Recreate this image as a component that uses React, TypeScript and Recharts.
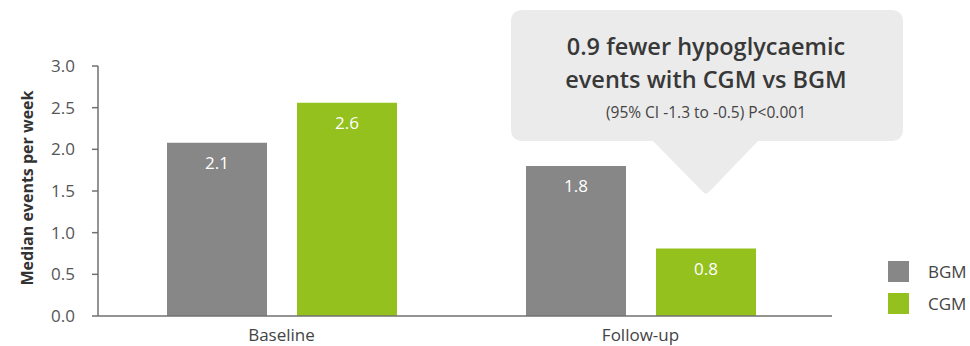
import React from 'react';
import { BarChart, Bar, XAxis, YAxis, LabelList } from 'recharts';

const categories = ['Baseline', 'Follow-up'];
const bgmValues = [2.08, 1.8];
const cgmValues = [2.56, 0.81];
const yTicks = [0, 0.5, 1, 1.5, 2, 2.5, 3];
const seriesNames = ['BGM', 'CGM'];
const seriesColors = ['#878787', '#95c11f'];
const calloutTitle = ['0.9 fewer hypoglycaemic', 'events with CGM vs BGM'];
const calloutSub = '(95% CI -1.3 to -0.5) P<0.001';
const yLabel = 'Median events per week';

const data = categories.map((c, i) => ({ name: c, BGM: bgmValues[i], CGM: cgmValues[i] }));

const FONT = '"Open Sans", Lato, sans-serif';

const YLabelContent = (props: any) => {
  const vb = props.viewBox || {};
  const cx = 27;
  const cy = (vb.y || 66) + (vb.height || 250) / 2 - 3;
  return (
    <text
      x={cx}
      y={cy}
      transform={`rotate(-90, ${cx}, ${cy})`}
      textAnchor="middle"
      dominantBaseline="central"
      fontFamily={FONT}
      fontSize={16}
      fontWeight={700}
      fill="#333"
    >
      {yLabel}
    </text>
  );
};

export default function App() {
  return (
    <div style={{ position: 'absolute', left: 0, top: 0, width: 970, height: 346, background: '#fff', overflow: 'hidden' }}>
      <BarChart
        width={970}
        height={346}
        data={data}
        margin={{ top: 66, right: 138, bottom: 0, left: 0 }}
        barSize={100}
        barGap={30}
        style={{ fontFamily: FONT }}
      >
        <XAxis
          dataKey="name"
          height={30}
          tickLine={false}
          tickSize={0}
          tickMargin={13}
          padding={{ left: 4, right: 12 }}
          axisLine={{ stroke: '#707070', strokeWidth: 1.5 }}
          tick={{ fill: '#444', fontSize: 17, fontFamily: FONT }}
        />
        <YAxis
          width={98}
          domain={[0, 3]}
          ticks={yTicks}
          tickFormatter={(v: number) => v.toFixed(1)}
          tickSize={6}
          tickMargin={17}
          axisLine={{ stroke: '#707070', strokeWidth: 1.5 }}
          tickLine={{ stroke: '#707070', strokeWidth: 1.5 }}
          tick={{ fill: '#555', fontSize: 17, fontFamily: FONT }}
          label={{ content: YLabelContent }}
        />
        {seriesNames.map((n, i) => (
          <Bar key={n} dataKey={n} fill={seriesColors[i]} isAnimationActive={false}>
            <LabelList
              dataKey={n}
              position="insideTop"
              offset={14}
              fill="#fff"
              fontSize={17}
              fontFamily={FONT}
              formatter={(v: number) => v.toFixed(1)}
            />
          </Bar>
        ))}
      </BarChart>
      <div style={{ position: 'absolute', left: 888, top: 261, fontFamily: FONT }}>
        {seriesNames.map((n, i) => (
          <div key={n} style={{ display: 'flex', alignItems: 'center', height: 21, marginBottom: 11 }}>
            <div style={{ width: 21, height: 21, background: seriesColors[i] }} />
            <span style={{ marginLeft: 19, fontSize: 17, color: '#444', lineHeight: '21px' }}>{n}</span>
          </div>
        ))}
      </div>
      <svg
        width={970}
        height={346}
        style={{ position: 'absolute', left: 0, top: 0, pointerEvents: 'none' }}
      >
        <path
          d="M523,10 H891 Q903,10 903,22 V129 Q903,141 891,141 H758 L709,192 Q706,195 703,192 L653,141 H523 Q511,141 511,129 V22 Q511,10 523,10 Z"
          fill="#ebebeb"
        />
        <text x={706} y={55} textAnchor="middle" fontFamily={FONT} fontSize={23.5} fontWeight={600} fill="#383838">
          {calloutTitle[0]}
        </text>
        <text x={706} y={88} textAnchor="middle" fontFamily={FONT} fontSize={23.5} fontWeight={600} fill="#383838">
          {calloutTitle[1]}
        </text>
        <text x={706} y={118} textAnchor="middle" fontFamily={FONT} fontSize={15.5} fill="#444">
          {calloutSub}
        </text>
      </svg>
    </div>
  );
}
